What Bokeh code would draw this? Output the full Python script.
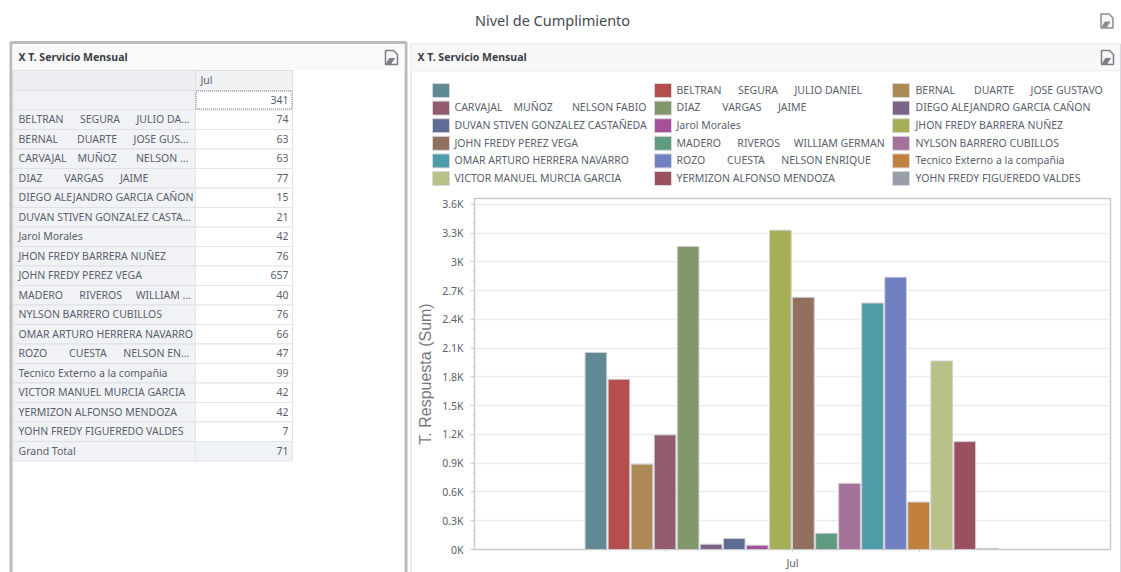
from bokeh.plotting import figure
from bokeh.models import Range1d, FixedTicker
from bokeh.core.properties import value
from bokeh.embed import file_html
from bokeh.resources import INLINE

# ---------- data ----------
page_title = "Nivel de Cumplimiento"
panel_title = "X T. Servicio Mensual"
month = "Jul"
axis_title = "T. Respuesta (Sum)"

table_names = ["", "BELTRAN      SEGURA      JULIO DA...", "BERNAL       DUARTE      JOSE GUS...",
               "CARVAJAL    MUÑOZ       NELSON ...", "DIAZ        VARGAS      JAIME",
               "DIEGO ALEJANDRO GARCIA CAÑON", "DUVAN STIVEN GONZALEZ CASTA...", "Jarol Morales",
               "JHON FREDY BARRERA NUÑEZ", "JOHN FREDY PEREZ VEGA", "MADERO      RIVEROS     WILLIAM ...",
               "NYLSON BARRERO CUBILLOS", "OMAR ARTURO HERRERA NAVARRO", "ROZO        CUESTA      NELSON EN...",
               "Tecnico Externo a la compañia", "VICTOR MANUEL MURCIA GARCIA",
               "YERMIZON ALFONSO MENDOZA", "YOHN FREDY FIGUEREDO VALDES", "Grand Total"]
table_values = [341, 74, 63, 63, 77, 15, 21, 42, 76, 657, 40, 76, 66, 47, 99, 42, 42, 7, 71]

series_names = ["", "BELTRAN      SEGURA      JULIO DANIEL", "BERNAL       DUARTE      JOSE GUSTAVO",
                "CARVAJAL    MUÑOZ       NELSON FABIO", "DIAZ        VARGAS      JAIME", "DIEGO ALEJANDRO GARCIA CAÑON",
                "DUVAN STIVEN GONZALEZ CASTAÑEDA", "Jarol Morales", "JHON FREDY BARRERA NUÑEZ",
                "JOHN FREDY PEREZ VEGA", "MADERO      RIVEROS     WILLIAM GERMAN", "NYLSON BARRERO CUBILLOS",
                "OMAR ARTURO HERRERA NAVARRO", "ROZO        CUESTA      NELSON ENRIQUE", "Tecnico Externo a la compañia",
                "VICTOR MANUEL MURCIA GARCIA", "YERMIZON ALFONSO MENDOZA", "YOHN FREDY FIGUEREDO VALDES"]
series_values = [2055, 1775, 890, 1195, 3160, 55, 115, 45, 3330, 2630, 170, 690, 2570, 2840, 495, 1965, 1125, 12]
series_colors = ["#5f8a94", "#b54f4e", "#ab8a55", "#935b6f", "#82976a", "#7c6488", "#5d6d93", "#a84f9c", "#a6ae56",
                 "#92705e", "#5f9b7f", "#a47199", "#4d9caa", "#7180c2", "#c1813e", "#b9c188", "#9b5062", "#9a9ea8"]
y_ticks = [0, 300, 600, 900, 1200, 1500, 1800, 2100, 2400, 2700, 3000, 3300, 3600]
y_minor = [100, 200, 400, 500, 700, 800, 1000, 1100, 1300, 1400, 1600, 1700, 1900, 2000, 2200, 2300,
           2500, 2600, 2800, 2900, 3100, 3200, 3400, 3500]
y_labels = ["0K", "0.3K", "0.6K", "0.9K", "1.2K", "1.5K", "1.8K", "2.1K", "2.4K", "2.7K", "3K", "3.3K", "3.6K"]

FONT = "Noto Sans"
TXT = "#5b5f6e"

# ---------- background page: panels, table, legend ----------
bg = figure(width=1113, height=564, output_backend="svg", toolbar_location=None,
            x_range=Range1d(8, 1121), y_range=Range1d(572, 8),
            min_border=0, outline_line_color=None, x_axis_location=None, y_axis_location=None)
bg.grid.visible = False
bg.styles = {"position": "absolute", "left": "8px", "top": "8px"}


def box(x0, y0, x1, y1, fill=None, line=None, lw=1, dash="solid"):
    bg.quad(left=[x0], right=[x1], top=[y0], bottom=[y1],
            fill_color=fill, fill_alpha=1 if fill else 0,
            line_color=line, line_alpha=1 if line else 0, line_width=lw, line_dash=dash)


def text(x, y, s, size=10.5, color=TXT, align="left", style="normal"):
    bg.text(x=[x], y=[y - 0.7], text=[s.replace(" ", "\u00a0")], text_font=value(FONT), text_font_size=f"{size}px",
            text_color=color, text_align=align, text_baseline="middle", text_font_style=style)


def icon(x, y, col="#7d7f85"):
    bg.patch([x, x + 8, x + 12, x + 12, x], [y, y, y + 4, y + 14, y + 14],
             fill_color="#f6f6f7", line_color=col, line_width=1.5)
    bg.patch([x + 1, x + 4, x + 9, x + 6, x + 6, x + 1], [y + 13, y + 8, y + 8, y + 12, y + 13, y + 13],
             fill_color=col, line_color=col, line_width=1)


text(552, 20, page_title, size=14.5, color="#444850", align="center")
icon(1100.5, 13.5, "#8a8c91")

# right panel
box(410.5, 43.5, 1120, 600, line="#d9dadd")
box(411, 44, 1119.5, 70, fill="#f8f8f9")
box(411, 70, 1119.5, 70.8, fill="#e4e5e8")
text(417, 57, panel_title, color="#3b3f46", style="bold")
icon(1101, 50)

# left panel
box(10.5, 42, 405.5, 600, line="#b9bbc0", lw=3)
box(12, 44, 404, 70, fill="#f9f9fa")
text(18, 57, panel_title, color="#3b3f46", style="bold")
icon(385, 50)

# table
TBL_L, TBL_M, TBL_R = 12.5, 195, 292
ROW0, ROW_H = 90, 19.5
box(TBL_L, 70, TBL_M, 90, fill="#eeeff2", line="#e2e3e7")
box(TBL_M, 70, TBL_R, 90, fill="#f0f1f3", line="#dddee3")
text(200, 80, month)
for i, (n, v) in enumerate(zip(table_names, table_values)):
    top, bot = ROW0 + i * ROW_H, ROW0 + (i + 1) * ROW_H
    mid = (top + bot) / 2
    box(TBL_L, top, TBL_M, bot, fill="#f1f2f5", line="#dfe1e6")
    total = i == len(table_names) - 1
    box(TBL_M, top, TBL_R, bot, fill="#eff2f7" if total else "#ffffff", line="#e3e4e9")
    if n:
        text(18, mid, n)
    text(288, mid, str(v), align="right")
box(195.5, 90.5, 291.5, 108.5, line="#777a80", dash="1 1")

# legend
COLS_SW = [432, 654, 892]
COLS_TX = [454, 676, 915]
LEG_Y0, LEG_DY = 90, 17.6
for i, (n, c) in enumerate(zip(series_names, series_colors)):
    row, col = divmod(i, 3)
    y = LEG_Y0 + row * LEG_DY
    box(COLS_SW[col], y - 7, COLS_SW[col] + 17, y + 7, fill=c, line="#d8d8dc")
    if n:
        text(COLS_TX[col], y, n)

# ---------- chart ----------
p = figure(width=708, height=382, output_backend="svg", toolbar_location=None,
           x_range=Range1d(-0.5, 0.5), y_range=Range1d(0, 3660),
           min_border_left=64, min_border_right=8, min_border_top=8, min_border_bottom=23,
           outline_line_color="#c9cacd", outline_line_width=1.5,
           background_fill_alpha=0, border_fill_alpha=0)
p.styles = {"position": "absolute", "left": "410px", "top": "190px"}

step = 0.03625
xs = [(i - (len(series_values) - 1) / 2) * step - 0.001 for i in range(len(series_values))]
p.vbar(x=xs, top=series_values, bottom=0, width=step * 0.94, fill_color=series_colors,
       line_color="#cfd0d4", line_width=1)

p.xgrid.visible = False
p.ygrid.grid_line_color = "#ececec"
p.ygrid.grid_line_width = 1.5
p.ygrid.ticker = FixedTicker(ticks=y_ticks)

ya = p.yaxis[0]
ya.ticker = FixedTicker(ticks=y_ticks, minor_ticks=y_minor)
ya.major_label_overrides = dict(zip(y_ticks, y_labels))
ya.minor_tick_line_color = "#d2d3d6"
ya.minor_tick_in = 0
ya.minor_tick_out = 2
ya.axis_line_color = "#c9cacd"
ya.major_tick_line_color = "#c9cacd"
ya.major_tick_in = 0
ya.major_tick_out = 4
ya.major_label_text_font = FONT
ya.major_label_text_font_size = "10.5px"
ya.major_label_text_color = TXT
ya.major_label_standoff = 7
ya.axis_label = axis_title
ya.axis_label_text_font = "Liberation Sans"
ya.axis_label_text_font_size = "16px"
ya.axis_label_text_font_style = "normal"
ya.axis_label_text_color = "#77797e"
ya.axis_label_standoff = 5

xa = p.xaxis[0]
xa.ticker = FixedTicker(ticks=[-0.2, 0, 0.2])
xa.major_label_overrides = {-0.2: "", 0: month, 0.2: ""}
xa.minor_tick_line_color = None
xa.axis_line_color = "#c9cacd"
xa.major_tick_line_color = "#c9cacd"
xa.major_tick_in = 0
xa.major_tick_out = 2
xa.major_label_text_font = FONT
xa.major_label_text_font_size = "10.5px"
xa.major_label_text_color = TXT
xa.major_label_standoff = 4

open("out.html", "w").write(file_html([bg, p], INLINE))
